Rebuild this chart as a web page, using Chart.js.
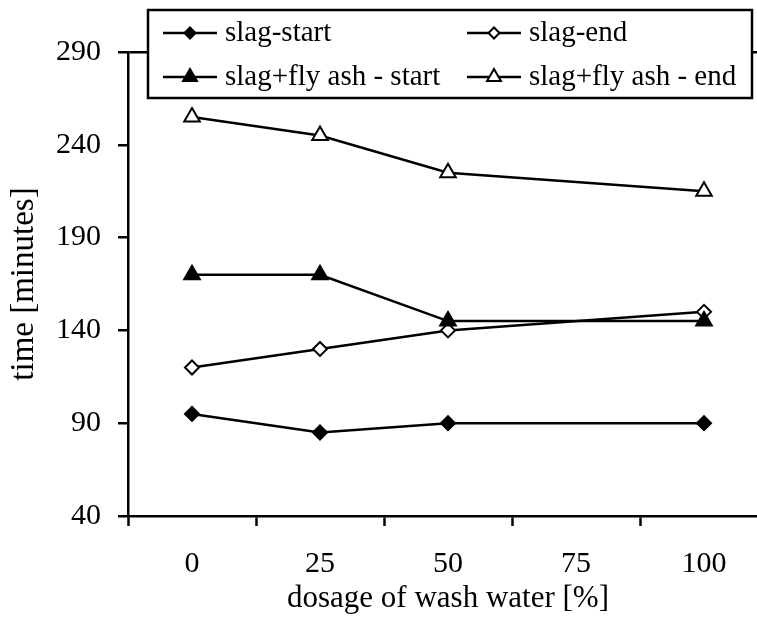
<!DOCTYPE html>
<html>
<head>
<meta charset="utf-8">
<script src="https://cdn.jsdelivr.net/npm/chart.js"></script>
<style>
  html, body { margin: 0; padding: 0; background: #fff; overflow: hidden; }
  #wrap { width: 757px; height: 621px; overflow: hidden; }
</style>
</head>
<body>
<div id="wrap"><canvas id="chart" width="780" height="621"></canvas></div>
<script>
// dosage of wash water [%] (no measurement at 75)
const dosages = ['0', '25', '50', '75', '100'];

// setting times [minutes]
const slagStart = [95, 85, 90, null, 90];
const slagEnd = [120, 130, 140, null, 150];
const flyAshStart = [170, 170, 145, null, 145];
const flyAshEnd = [255, 245, 225, null, 215];

const yMin = 40;
const yMax = 290;
const yStep = 50;

const FONT = "'Liberation Serif', 'Times New Roman', serif";

function series(label, data, style, filled, order) {
    return {
        label: label,
        data: data,
        order: order,
        spanGaps: true,
        borderColor: '#000',
        borderWidth: 2.5,
        backgroundColor: filled ? '#000' : '#fff',
        pointStyle: style,
        pointRadius: style === 'triangle' ? 9 : 7,
        pointBorderWidth: 2,
        pointBorderColor: '#000',
        pointBackgroundColor: filled ? '#000' : '#fff',
        tension: 0
    };
}

// Legend box drawn by hand (two columns, boxed, overlapping the top of the plot)
const boxLegend = {
    id: 'boxLegend',
    afterDraw(chart) {
        const ctx = chart.ctx;
        const cols = [163, 467];
        const rows = [33, 77];
        ctx.save();
        ctx.fillStyle = '#fff';
        ctx.fillRect(148, 10, 604, 88);
        ctx.strokeStyle = '#000';
        ctx.lineWidth = 2.5;
        ctx.strokeRect(148, 10, 604, 88);

        chart.data.datasets.forEach((ds, i) => {
            const x = cols[i % 2];
            const y = rows[Math.floor(i / 2)];
            ctx.strokeStyle = '#000';
            ctx.lineWidth = 2.5;
            ctx.beginPath();
            ctx.moveTo(x, y);
            ctx.lineTo(x + 54, y);
            ctx.stroke();

            ctx.fillStyle = ds.pointBackgroundColor;
            ctx.strokeStyle = '#000';
            ctx.lineWidth = 2;
            Chart.helpers.drawPoint(ctx, {
                pointStyle: ds.pointStyle,
                radius: ds.pointStyle === 'triangle' ? 8 : 5.5,
                rotation: 0,
                borderWidth: 2
            }, x + 27, y);

            ctx.fillStyle = '#000';
            ctx.font = '29px ' + FONT;
            ctx.textAlign = 'left';
            ctx.textBaseline = 'middle';
            ctx.fillText(ds.label, x + 62, y);
        });
        ctx.restore();
    }
};

new Chart(document.getElementById('chart').getContext('2d'), {
    type: 'line',
    data: {
        labels: dosages,
        datasets: [
            series('slag-start', slagStart, 'rectRot', true, 4),
            series('slag-end', slagEnd, 'rectRot', false, 3),
            series('slag+fly ash - start', flyAshStart, 'triangle', true, 2),
            series('slag+fly ash - end', flyAshEnd, 'triangle', false, 1)
        ]
    },
    options: {
        responsive: false,
        animation: false,
        layout: { padding: { top: 52, right: 12, left: 0, bottom: 0 } },
        plugins: {
            legend: { display: false },
            tooltip: { enabled: false }
        },
        scales: {
            x: {
                type: 'category',
                offset: true,
                grid: {
                    offset: true,
                    drawOnChartArea: false,
                    drawTicks: true,
                    tickLength: 10,
                    tickColor: '#000',
                    tickWidth: 2.5
                },
                border: { color: '#000', width: 2.5 },
                ticks: {
                    color: '#000',
                    font: { family: FONT, size: 30 },
                    padding: 20,
                    maxRotation: 0
                },
                title: {
                    display: true,
                    text: 'dosage of wash water [%]',
                    color: '#000',
                    font: { family: FONT, size: 31 },
                    padding: { top: 0, bottom: 4 }
                },
                afterFit(scale) { scale.height = 105; }
            },
            y: {
                min: yMin,
                max: yMax,
                grid: {
                    drawOnChartArea: true,
                    color: ctx => (ctx.tick && ctx.tick.value === yMax) ? '#000' : 'rgba(0,0,0,0)',
                    lineWidth: 2.5,
                    tickLength: 10,
                    tickColor: '#000',
                    tickWidth: 2.5
                },
                border: { color: '#000', width: 2.5 },
                ticks: {
                    stepSize: yStep,
                    color: '#000',
                    font: { family: FONT, size: 30 },
                    padding: 17
                },
                title: {
                    display: true,
                    text: 'time [minutes]',
                    color: '#000',
                    font: { family: FONT, size: 33 },
                    padding: { top: 5, bottom: 0 }
                },
                afterFit(scale) { scale.width = 128; }
            }
        }
    },
    plugins: [boxLegend]
});
</script>
</body>
</html>
